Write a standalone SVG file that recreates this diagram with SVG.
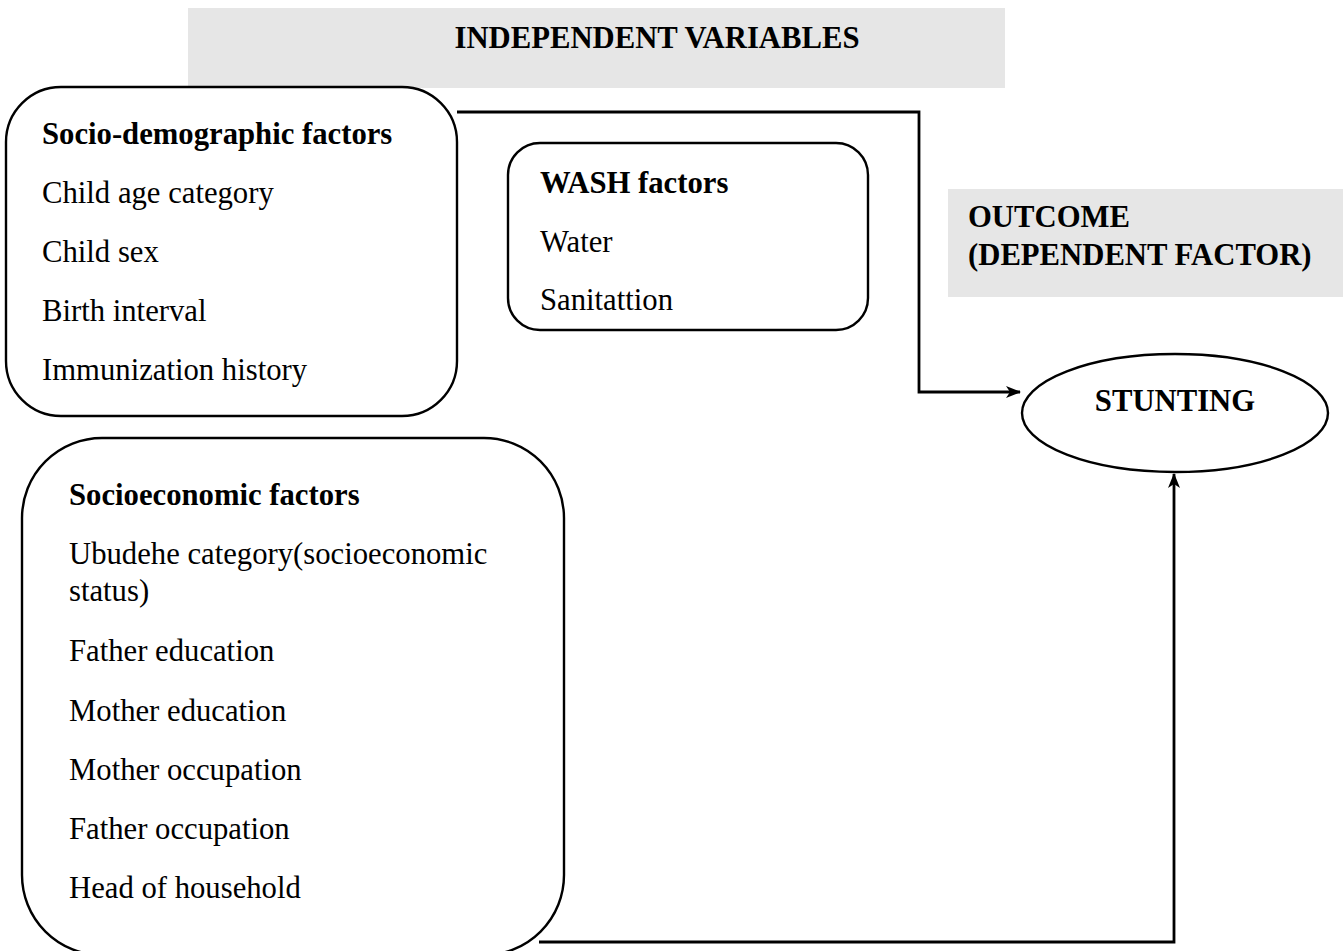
<svg xmlns="http://www.w3.org/2000/svg" width="1343" height="951" viewBox="0 0 1343 951">
<style>
.band{fill:#e6e6e6;stroke:none}
.box{fill:#fff;stroke:#000;stroke-width:2.4}
.t{font-family:"Liberation Serif","Times New Roman",serif;font-size:30.7px;fill:#000}
.b{font-weight:bold}
.conn{fill:none;stroke:#000;stroke-width:2.8}
</style>
<defs>
<marker id="arr" viewBox="0 0 15 12" refX="14" refY="6" markerWidth="15" markerHeight="12" markerUnits="userSpaceOnUse" orient="auto">
<path d="M0,0 L15,6 L0,12 L4,6 z" fill="#000"/>
</marker>
</defs>
<rect width="1343" height="951" fill="#fff"/>
<g id="title-independent">
<rect class="band" x="188" y="8" width="817" height="80"/>
<text class="t b" x="657" y="48" text-anchor="middle">INDEPENDENT VARIABLES</text>
</g>
<g id="title-outcome">
<rect class="band" x="948" y="189" width="395" height="108"/>
<text class="t b" x="968" y="227">OUTCOME</text>
<text class="t b" x="968" y="265">(DEPENDENT FACTOR)</text>
</g>
<g id="connectors">
<path class="conn" d="M457,112 H919 V392 H1020" marker-end="url(#arr)"/>
<path class="conn" d="M539,942 H1174 V474" marker-end="url(#arr)"/>
</g>
<g id="socio-demographic">
<rect class="box" x="6" y="87" width="451" height="329" rx="55" ry="55"/>
<text class="t b" x="42" y="144">Socio-demographic factors</text>
<text class="t" x="42" y="203">Child age category</text>
<text class="t" x="42" y="262">Child sex</text>
<text class="t" x="42" y="321">Birth interval</text>
<text class="t" x="42" y="380">Immunization history</text>
</g>
<g id="wash">
<rect class="box" x="508" y="143" width="360" height="187" rx="32" ry="32"/>
<text class="t b" x="540" y="193">WASH factors</text>
<text class="t" x="540" y="252">Water</text>
<text class="t" x="540" y="310">Sanitattion</text>
</g>
<g id="socioeconomic">
<rect class="box" x="22" y="438" width="542" height="517" rx="80" ry="80"/>
<text class="t b" x="69" y="505">Socioeconomic factors</text>
<text class="t" x="69" y="564">Ubudehe category(socioeconomic</text>
<text class="t" x="69" y="601">status)</text>
<text class="t" x="69" y="661">Father education</text>
<text class="t" x="69" y="721">Mother education</text>
<text class="t" x="69" y="780">Mother occupation</text>
<text class="t" x="69" y="839">Father occupation</text>
<text class="t" x="69" y="898">Head of household</text>
</g>
<g id="stunting">
<ellipse class="box" cx="1175" cy="413" rx="153" ry="59"/>
<text class="t b" x="1175" y="411" text-anchor="middle">STUNTING</text>
</g>
</svg>
